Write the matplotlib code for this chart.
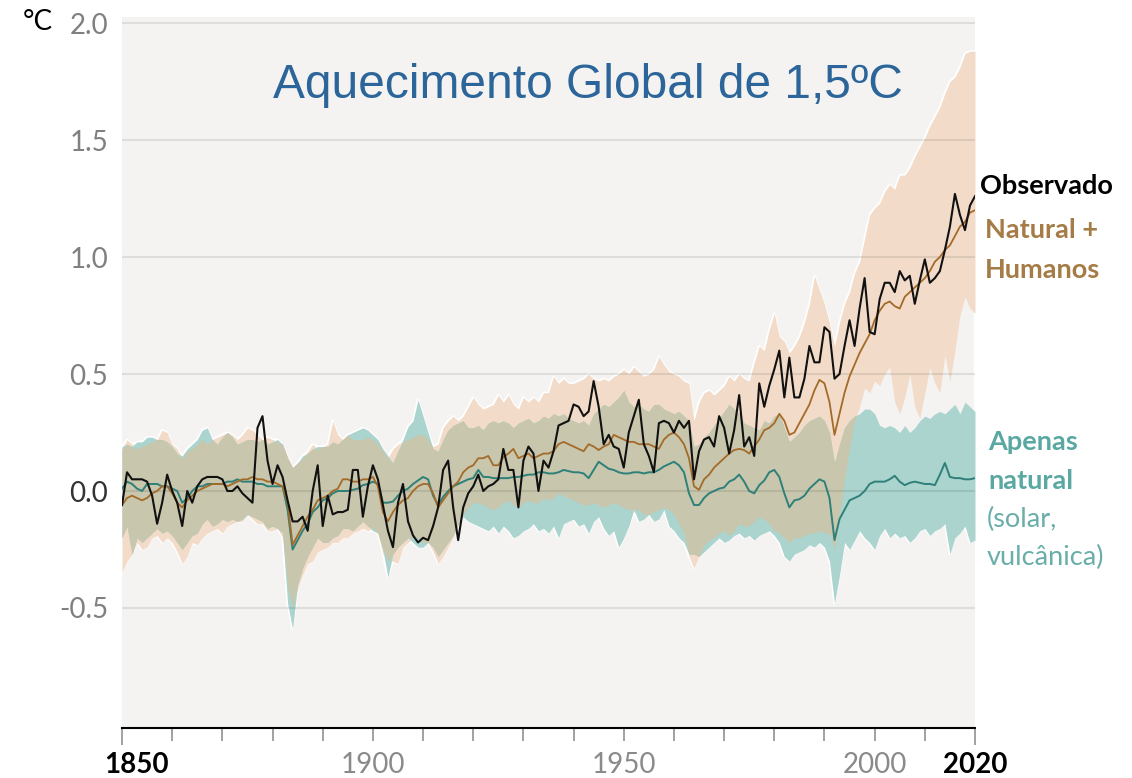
import matplotlib
matplotlib.use("Agg")
import matplotlib.pyplot as plt
import numpy as np
from matplotlib.transforms import ScaledTranslation

plt.rcParams['font.family'] = ['Lato', 'DejaVu Sans']

# anos 1850-2020, anomalia em relacao a 1850-1900 (°C)
anos = list(range(1850, 2021))

observado = [
    -0.06, 0.08, 0.05, 0.05, 0.05, 0.04, -0.02, -0.14, -0.05, 0.07,
    0.00, -0.05, -0.15, 0.00, -0.05, 0.02, 0.05, 0.06, 0.06, 0.06,
    0.05, 0.00, 0.00, 0.02, -0.01, -0.03, -0.05, 0.27, 0.32, 0.13,
    0.03, 0.11, 0.06, -0.04, -0.13, -0.13, -0.11, -0.17, 0.00, 0.11,
    -0.15, -0.02, -0.10, -0.09, -0.09, -0.08, 0.09, 0.09, -0.11, 0.02,
    0.11, 0.05, -0.06, -0.17, -0.24, -0.05, 0.03, -0.13, -0.19, -0.22,
    -0.20, -0.21, -0.15, -0.07, 0.09, 0.13, -0.07, -0.21, -0.07, -0.01,
    0.02, 0.07, 0.00, 0.02, 0.03, 0.05, 0.18, 0.09, 0.09, -0.07,
    0.13, 0.19, 0.16, 0.00, 0.13, 0.10, 0.17, 0.28, 0.29, 0.30,
    0.37, 0.36, 0.32, 0.34, 0.47, 0.36, 0.20, 0.24, 0.19, 0.18,
    0.10, 0.25, 0.32, 0.39, 0.20, 0.15, 0.08, 0.29, 0.30, 0.29,
    0.25, 0.30, 0.27, 0.30, 0.05, 0.17, 0.22, 0.23, 0.19, 0.32,
    0.27, 0.16, 0.26, 0.41, 0.19, 0.23, 0.15, 0.46, 0.36, 0.45,
    0.52, 0.60, 0.40, 0.57, 0.40, 0.40, 0.48, 0.62, 0.55, 0.55,
    0.70, 0.68, 0.48, 0.50, 0.62, 0.73, 0.62, 0.78, 0.91, 0.68,
    0.67, 0.82, 0.89, 0.89, 0.85, 0.94, 0.90, 0.92, 0.80, 0.90,
    0.99, 0.89, 0.91, 0.94, 1.03, 1.13, 1.27, 1.18, 1.115, 1.22,
    1.26,
]

# simulado: natural + humanos (media e faixa)
nat_hum = [
    -0.06, -0.03, -0.02, -0.03, -0.04, -0.03, -0.01, 0.00, 0.02, 0.02,
    -0.01, -0.05, -0.07, -0.04, -0.02, 0.00, 0.01, 0.02, 0.03, 0.03,
    0.03, 0.02, 0.03, 0.04, 0.05, 0.05, 0.06, 0.05, 0.05, 0.04,
    0.04, 0.03, 0.02, -0.05, -0.23, -0.19, -0.15, -0.11, -0.08, -0.04,
    -0.03, -0.02, 0.00, 0.01, 0.05, 0.05, 0.04, 0.04, 0.05, 0.05,
    0.06, 0.02, -0.09, -0.13, -0.09, -0.06, -0.04, -0.03, 0.00, 0.02,
    0.03, 0.03, -0.01, -0.07, -0.04, -0.01, 0.02, 0.04, 0.08, 0.10,
    0.11, 0.14, 0.14, 0.15, 0.11, 0.11, 0.145, 0.16, 0.18, 0.14,
    0.15, 0.16, 0.14, 0.15, 0.16, 0.16, 0.17, 0.20, 0.21, 0.20,
    0.19, 0.18, 0.17, 0.20, 0.19, 0.175, 0.19, 0.20, 0.24, 0.23,
    0.22, 0.21, 0.21, 0.20, 0.20, 0.20, 0.19, 0.18, 0.22, 0.24,
    0.25, 0.23, 0.20, 0.14, 0.02, 0.005, 0.05, 0.07, 0.10, 0.12,
    0.14, 0.16, 0.175, 0.18, 0.175, 0.16, 0.19, 0.22, 0.26, 0.27,
    0.29, 0.33, 0.30, 0.24, 0.25, 0.29, 0.33, 0.37, 0.43, 0.475,
    0.46, 0.38, 0.24, 0.33, 0.42, 0.49, 0.54, 0.59, 0.63, 0.67,
    0.73, 0.77, 0.80, 0.81, 0.79, 0.78, 0.83, 0.85, 0.87, 0.89,
    0.91, 0.94, 0.98, 1.00, 1.03, 1.05, 1.09, 1.13, 1.15, 1.19,
    1.20,
]
nat_hum_alto = [
    0.18, 0.22, 0.20, 0.18, 0.19, 0.20, 0.21, 0.22, 0.26, 0.25,
    0.20, 0.18, 0.14, 0.17, 0.18, 0.20, 0.22, 0.20, 0.22, 0.23,
    0.24, 0.25, 0.24, 0.22, 0.24, 0.27, 0.26, 0.24, 0.22, 0.23,
    0.22, 0.21, 0.20, 0.15, 0.10, 0.12, 0.14, 0.17, 0.20, 0.18,
    0.19, 0.20, 0.30, 0.24, 0.22, 0.24, 0.22, 0.22, 0.22, 0.23,
    0.22, 0.20, 0.17, 0.14, 0.18, 0.20, 0.21, 0.22, 0.23, 0.24,
    0.24, 0.22, 0.19, 0.20, 0.27, 0.30, 0.32, 0.30, 0.32, 0.36,
    0.40, 0.37, 0.35, 0.36, 0.37, 0.41, 0.38, 0.41, 0.37, 0.35,
    0.40, 0.38, 0.40, 0.38, 0.42, 0.42, 0.49, 0.46, 0.48, 0.46,
    0.46, 0.47, 0.48, 0.50, 0.48, 0.47, 0.48, 0.47, 0.49, 0.50,
    0.52, 0.50, 0.53, 0.51, 0.49, 0.50, 0.52, 0.575, 0.54, 0.51,
    0.50, 0.49, 0.47, 0.46, 0.30, 0.38, 0.42, 0.43, 0.41, 0.43,
    0.45, 0.49, 0.47, 0.50, 0.48, 0.47, 0.55, 0.62, 0.60, 0.69,
    0.76, 0.66, 0.64, 0.59, 0.62, 0.66, 0.72, 0.80, 0.92, 0.86,
    0.80, 0.72, 0.62, 0.72, 0.80, 0.85, 0.93, 0.98, 1.08, 1.18,
    1.21, 1.23, 1.28, 1.31, 1.29, 1.35, 1.35, 1.38, 1.43, 1.47,
    1.51, 1.56, 1.60, 1.64, 1.70, 1.75, 1.77, 1.81, 1.87, 1.88,
    1.88,
]
nat_hum_baixo = [
    -0.35, -0.30, -0.27, -0.22, -0.25, -0.24, -0.20, -0.19, -0.22, -0.20,
    -0.22, -0.26, -0.31, -0.28, -0.22, -0.23, -0.20, -0.18, -0.17, -0.16,
    -0.18, -0.15, -0.14, -0.13, -0.13, -0.10, -0.12, -0.14, -0.14, -0.17,
    -0.17, -0.16, -0.20, -0.40, -0.50, -0.42, -0.36, -0.31, -0.30, -0.26,
    -0.25, -0.24, -0.22, -0.22, -0.20, -0.20, -0.18, -0.17, -0.16, -0.17,
    -0.16, -0.18, -0.27, -0.30, -0.30, -0.31, -0.24, -0.22, -0.20, -0.20,
    -0.22, -0.22, -0.26, -0.31, -0.28, -0.24, -0.20, -0.15, -0.10, -0.07,
    -0.05, -0.05, -0.06, -0.07, -0.08, -0.07, -0.05, -0.04, -0.06, -0.07,
    -0.05, -0.04, -0.05, -0.05, -0.03, -0.04, -0.03, -0.01, -0.02, -0.03,
    -0.04, -0.05, -0.06, -0.06, -0.05, -0.06, -0.07, -0.06, -0.05, -0.06,
    -0.07, -0.08, -0.09, -0.08, -0.10, -0.10, -0.09, -0.08, -0.07, -0.08,
    -0.10, -0.14, -0.18, -0.28, -0.33, -0.28, -0.23, -0.21, -0.20, -0.18,
    -0.17, -0.19, -0.17, -0.14, -0.15, -0.15, -0.13, -0.11, -0.12, -0.14,
    -0.17, -0.18, -0.20, -0.22, -0.20, -0.20, -0.19, -0.18, -0.18, -0.17,
    -0.18, -0.18, -0.25, -0.10, 0.05, 0.18, 0.30, 0.36, 0.44, 0.42,
    0.47, 0.45, 0.50, 0.53, 0.38, 0.33, 0.40, 0.50, 0.36, 0.31,
    0.42, 0.53, 0.46, 0.42, 0.58, 0.47, 0.60, 0.75, 0.83, 0.78,
    0.76,
]

# simulado: apenas natural (media e faixa)
natural = [
    0.01, 0.04, 0.03, 0.01, 0.00, 0.03, 0.03, 0.03, 0.02, 0.02,
    0.01, 0.00, -0.05, -0.03, 0.00, 0.02, 0.02, 0.03, 0.03, 0.03,
    0.03, 0.04, 0.04, 0.05, 0.04, 0.04, 0.04, 0.03, 0.03, 0.02,
    0.02, 0.02, 0.02, -0.08, -0.25, -0.21, -0.17, -0.14, -0.09, -0.07,
    -0.04, -0.03, -0.01, 0.00, 0.00, 0.00, 0.005, 0.01, 0.025, 0.03,
    0.04, 0.03, -0.05, -0.05, -0.045, -0.02, 0.00, 0.01, 0.03, 0.045,
    0.06, 0.05, -0.02, -0.06, -0.025, 0.00, 0.02, 0.03, 0.04, 0.05,
    0.055, 0.09, 0.06, 0.06, 0.055, 0.055, 0.055, 0.055, 0.06, 0.06,
    0.065, 0.07, 0.07, 0.08, 0.08, 0.075, 0.075, 0.08, 0.09, 0.085,
    0.08, 0.08, 0.075, 0.055, 0.09, 0.125, 0.11, 0.095, 0.09, 0.08,
    0.075, 0.075, 0.08, 0.08, 0.075, 0.08, 0.08, 0.09, 0.105, 0.115,
    0.125, 0.11, 0.08, -0.01, -0.06, -0.06, -0.03, -0.01, 0.00, 0.01,
    0.015, 0.04, 0.05, 0.07, 0.04, 0.00, -0.01, 0.025, 0.045, 0.08,
    0.09, 0.06, -0.01, -0.07, -0.04, -0.035, -0.02, 0.01, 0.03, 0.05,
    0.04, -0.03, -0.21, -0.12, -0.08, -0.04, -0.03, -0.02, 0.00, 0.03,
    0.04, 0.04, 0.04, 0.05, 0.065, 0.04, 0.025, 0.035, 0.04, 0.035,
    0.03, 0.03, 0.025, 0.07, 0.12, 0.06, 0.055, 0.055, 0.05, 0.05,
    0.055,
]
natural_alto = [
    0.19, 0.20, 0.19, 0.21, 0.21, 0.23, 0.23, 0.22, 0.22, 0.21,
    0.19, 0.16, 0.15, 0.18, 0.20, 0.22, 0.26, 0.27, 0.22, 0.20,
    0.23, 0.25, 0.23, 0.20, 0.21, 0.22, 0.22, 0.21, 0.22, 0.20,
    0.21, 0.22, 0.20, 0.14, 0.10, 0.12, 0.15, 0.16, 0.18, 0.19,
    0.19, 0.19, 0.21, 0.20, 0.22, 0.24, 0.25, 0.26, 0.27, 0.26,
    0.24, 0.22, 0.18, 0.15, 0.12, 0.17, 0.22, 0.275, 0.30, 0.39,
    0.32, 0.25, 0.18, 0.17, 0.22, 0.26, 0.28, 0.29, 0.30, 0.27,
    0.27, 0.28, 0.26, 0.29, 0.30, 0.29, 0.30, 0.29, 0.27, 0.29,
    0.30, 0.31, 0.29, 0.30, 0.32, 0.31, 0.33, 0.32, 0.33, 0.31,
    0.30, 0.29, 0.30, 0.28, 0.33, 0.35, 0.37, 0.36, 0.38, 0.40,
    0.43, 0.38, 0.36, 0.37, 0.35, 0.34, 0.37, 0.37, 0.35, 0.34,
    0.33, 0.34, 0.32, 0.30, 0.19, 0.20, 0.23, 0.25, 0.28, 0.31,
    0.34, 0.37, 0.35, 0.33, 0.29, 0.28, 0.27, 0.26, 0.30, 0.29,
    0.32, 0.33, 0.27, 0.21, 0.23, 0.25, 0.28, 0.30, 0.31, 0.32,
    0.30, 0.25, 0.12, 0.20, 0.27, 0.30, 0.32, 0.33, 0.35, 0.35,
    0.33, 0.28, 0.27, 0.28, 0.27, 0.25, 0.28, 0.25, 0.27, 0.30,
    0.32, 0.31, 0.33, 0.34, 0.33, 0.35, 0.37, 0.33, 0.38, 0.36,
    0.34,
]
natural_baixo = [
    -0.20, -0.15, -0.27, -0.20, -0.22, -0.20, -0.18, -0.16, -0.18, -0.17,
    -0.19, -0.22, -0.25, -0.22, -0.19, -0.18, -0.14, -0.12, -0.15, -0.14,
    -0.12, -0.13, -0.12, -0.13, -0.12, -0.10, -0.11, -0.12, -0.13, -0.16,
    -0.15, -0.16, -0.18, -0.48, -0.59, -0.40, -0.33, -0.28, -0.24, -0.20,
    -0.22, -0.22, -0.20, -0.19, -0.16, -0.16, -0.17, -0.15, -0.13, -0.15,
    -0.17, -0.18, -0.25, -0.37, -0.27, -0.24, -0.22, -0.20, -0.22, -0.24,
    -0.24, -0.22, -0.24, -0.28, -0.25, -0.22, -0.19, -0.14, -0.11, -0.13,
    -0.14, -0.15, -0.16, -0.17, -0.15, -0.18, -0.15, -0.17, -0.20, -0.19,
    -0.17, -0.16, -0.14, -0.17, -0.16, -0.18, -0.15, -0.20, -0.14, -0.13,
    -0.12, -0.15, -0.14, -0.18, -0.13, -0.11, -0.16, -0.19, -0.17, -0.24,
    -0.20, -0.15, -0.08, -0.13, -0.12, -0.10, -0.13, -0.12, -0.08, -0.15,
    -0.17, -0.20, -0.22, -0.27, -0.27, -0.28, -0.26, -0.24, -0.22, -0.20,
    -0.22, -0.21, -0.19, -0.18, -0.20, -0.19, -0.21, -0.19, -0.18, -0.17,
    -0.19, -0.22, -0.28, -0.30, -0.27, -0.26, -0.25, -0.23, -0.24, -0.22,
    -0.24, -0.30, -0.48, -0.36, -0.22, -0.25, -0.21, -0.17, -0.20, -0.22,
    -0.25, -0.19, -0.16, -0.20, -0.18, -0.20, -0.19, -0.22, -0.20, -0.17,
    -0.16, -0.19, -0.17, -0.16, -0.14, -0.27, -0.20, -0.18, -0.15, -0.22,
    -0.21,
]

y_ticks = [-0.5, 0.0, 0.5, 1.0, 1.5, 2.0]
y_labels = ['-0.5', '0.0', '0.5', '1.0', '1.5', '2.0']
x_ticks = list(range(1850, 2021, 10))
x_labels = ['1850', '', '', '', '', '1900', '', '', '', '', '1950',
            '', '', '', '', '2000', '', '2020']

fig = plt.figure(figsize=(11.32, 7.78), dpi=100)
ax = fig.add_axes([122 / 1132, 1 - 728 / 778, (975 - 122) / 1132, (728 - 17) / 778])
ax.set_facecolor('#f4f3f1')
ax.set_xlim(1850, 2020)
ax.set_ylim(-1.013, 2.026)

x = np.array(anos)
nh_lo, nh_hi = np.array(nat_hum_baixo), np.array(nat_hum_alto)
na_lo, na_hi = np.array(natural_baixo), np.array(natural_alto)

# contorno claro em volta das faixas
ax.fill_between(x, np.minimum(nh_lo, na_lo), np.maximum(nh_hi, na_hi),
                facecolor='none', edgecolor='white', lw=1.6, zorder=1)
ax.fill_between(x, nh_lo, nh_hi, color='#f2dcc9', lw=0, zorder=2)
ax.fill_between(x, na_lo, na_hi, color='#abd4cf', lw=0, zorder=3)
ov_lo = np.maximum(nh_lo, na_lo)
ov_hi = np.minimum(nh_hi, na_hi)
ax.fill_between(x, ov_lo, ov_hi, where=ov_hi > ov_lo, interpolate=True,
                color='#c8c6ad', lw=0, zorder=4)

for v in y_ticks:
    ax.axhline(v, color='black', alpha=0.09, lw=1.5, zorder=5)

ax.plot(x, natural, color='#2e8078', lw=1.4, zorder=6)
ax.plot(x, nat_hum, color='#a46a28', lw=1.3, zorder=7)
ax.plot(x, observado, color='#111111', lw=1.5, zorder=8)

for s in ['left', 'top', 'right']:
    ax.spines[s].set_visible(False)
ax.spines['bottom'].set_color('black')
ax.spines['bottom'].set_linewidth(1.5)
ax.spines['bottom'].set_zorder(9)

ax.set_yticks(y_ticks)
ax.set_yticklabels(y_labels)
ax.tick_params(axis='y', length=0, pad=10, labelsize=20, labelcolor='#808080')
for lab in ax.get_yticklabels():
    if lab.get_text() == '0.0':
        lab.set_color('#333333')

ax.set_xticks(x_ticks)
ax.set_xticklabels(x_labels)
ax.tick_params(axis='x', direction='out', length=9.5, width=1.3,
               color='#9a9a9a', pad=8, labelsize=20, labelcolor='#8a8a8a')
for tick, loc in zip(ax.xaxis.get_major_ticks(), x_ticks):
    if loc in (1850, 2020):
        tick.tick1line.set_markersize(12.5)
        tick.tick1line.set_color('black')
        tick.label1.set_color('black')
        tick.label1.set_fontweight('bold')
    if loc == 1850:
        tick.label1.set_transform(tick.label1.get_transform()
                                  + ScaledTranslation(0.15, 0, fig.dpi_scale_trans))

fig.text(38 / 1132, 1 - 22 / 778, '°C', ha='center', va='center',
         fontsize=20, color='black')

fig.text(588 / 1132, 1 - 86 / 778, 'Aquecimento Global de 1,5ºC',
         ha='center', va='center', fontsize=34.5, color='#2b6599',
         family=['Liberation Sans', 'DejaVu Sans'])

rotulos = [
    ('Observado', 980, 186, '#000000', 'bold'),
    ('Natural +', 985, 230, '#a57b46', 'bold'),
    ('Humanos', 985, 270, '#a57b46', 'bold'),
    ('Apenas', 988, 442, '#5aa8a2', 'bold'),
    ('natural', 988, 481, '#5aa8a2', 'bold'),
    ('(solar,', 987, 519, '#6aaeaa', 'normal'),
    ('vulcânica)', 987, 557, '#6aaeaa', 'normal'),
]
for txt, px, py, cor, peso in rotulos:
    fig.text(px / 1132, 1 - py / 778, txt, ha='left', va='center',
             fontsize=19.5, color=cor, fontweight=peso)

fig.savefig('out.png', dpi=100)
